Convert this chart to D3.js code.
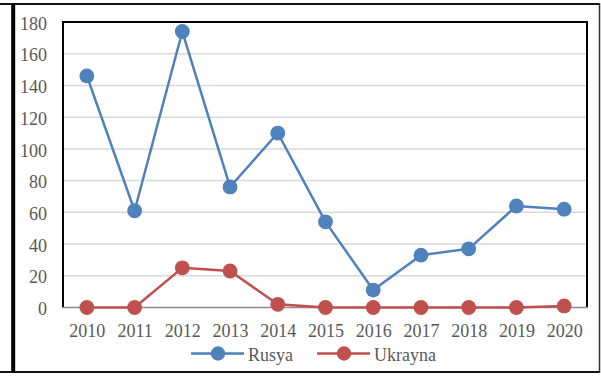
<!DOCTYPE html>
<html>
<head>
<meta charset="utf-8">
<script src="https://cdn.jsdelivr.net/npm/d3@7"></script>
<style>
  html, body { margin: 0; padding: 0; background: #fff; }
  svg { display: block; }
</style>
</head>
<body>
<svg id="chart" width="601" height="376"></svg>
<script>
// Yearly counts per country
const years = ["2010", "2011", "2012", "2013", "2014", "2015", "2016", "2017", "2018", "2019", "2020"];
const rusya = [146, 61, 174, 76, 110, 54, 11, 33, 37, 64, 62];
const ukrayna = [0, 0, 25, 23, 2, 0, 0, 0, 0, 0, 1];
const yTicks = [0, 20, 40, 60, 80, 100, 120, 140, 160, 180];
const seriesNames = ["Rusya", "Ukrayna"];
const seriesColors = ["#4f81bd", "#c0504d"];

const FONT = "'Liberation Serif', 'Times New Roman', Tinos, serif";
const TEXT_COLOR = "#595959";

const svg = d3.select("#chart");

// Frame around the figure
const frame = svg.append("g");
frame.append("line").attr("x1", 0).attr("x2", 600).attr("y1", 4).attr("y2", 4)
  .attr("stroke", "#111").attr("stroke-width", 2);
frame.append("line").attr("x1", 0).attr("x2", 600).attr("y1", 372).attr("y2", 372)
  .attr("stroke", "#111").attr("stroke-width", 2);
frame.append("line").attr("x1", 599.5).attr("x2", 599.5).attr("y1", 3).attr("y2", 373)
  .attr("stroke", "#333").attr("stroke-width", 1.5);
frame.append("line").attr("x1", 13.2).attr("x2", 13.2).attr("y1", 3).attr("y2", 373)
  .attr("stroke", "#000").attr("stroke-width", 4);

const plot = { left: 63, right: 588, top: 22, bottom: 307.5 };

const x = d3.scalePoint().domain(years).range([plot.left, plot.right]).padding(0.5);
const y = d3.scaleLinear().domain([0, 180]).range([plot.bottom, plot.top]);

// Gridlines
svg.append("g")
  .selectAll("line")
  .data(yTicks.filter(t => t > 0 && t < 180))
  .join("line")
  .attr("x1", plot.left).attr("x2", plot.right)
  .attr("y1", d => y(d)).attr("y2", d => y(d))
  .attr("stroke", "#d9d9d9").attr("stroke-width", 1.5);

// Plot area border (top, left, right) and category axis line
svg.append("path")
  .attr("d", `M${plot.left},${plot.bottom} V${plot.top} H${plot.right - 1} V${plot.bottom}`)
  .attr("fill", "none").attr("stroke", "#000").attr("stroke-width", 2);
svg.append("line")
  .attr("x1", plot.left).attr("x2", plot.right)
  .attr("y1", plot.bottom).attr("y2", plot.bottom)
  .attr("stroke", "#8c8c8c").attr("stroke-width", 1.5);

function styleLabels(sel) {
  sel.attr("font-family", null).attr("font-size", null);
  sel.selectAll("text")
    .style("font-family", FONT)
    .style("font-size", "18px")
    .attr("fill", TEXT_COLOR);
}

// Y axis labels
const yAxis = d3.axisLeft(y).tickValues(yTicks).tickSize(0).tickPadding(0);
const yg = svg.append("g").attr("transform", "translate(47,0)").call(yAxis);
yg.select(".domain").remove();
styleLabels(yg);
yg.selectAll("text").attr("dy", "0.4em");

// X axis labels
const xAxis = d3.axisBottom(x).tickSize(0).tickPadding(0);
const xg = svg.append("g").attr("transform", `translate(0,${plot.bottom + 16.5})`).call(xAxis);
xg.select(".domain").remove();
styleLabels(xg);

// Series lines and markers
const line = d3.line().x((d, i) => x(years[i])).y(d => y(d));
[rusya, ukrayna].forEach((vals, s) => {
  const g = svg.append("g");
  g.append("path").datum(vals)
    .attr("d", line)
    .attr("fill", "none")
    .attr("stroke", seriesColors[s])
    .attr("stroke-width", 2.5)
    .attr("stroke-linejoin", "round");
  g.selectAll("circle").data(vals).join("circle")
    .attr("cx", (d, i) => x(years[i]))
    .attr("cy", d => y(d))
    .attr("r", 7.4)
    .attr("fill", seriesColors[s]);
});

// Legend
const legendY = 353.5;
const legendItems = [
  { x0: 191, name: seriesNames[0], color: seriesColors[0] },
  { x0: 317, name: seriesNames[1], color: seriesColors[1] }
];
const lg = svg.append("g");
legendItems.forEach(item => {
  lg.append("line")
    .attr("x1", item.x0).attr("x2", item.x0 + 53)
    .attr("y1", legendY).attr("y2", legendY)
    .attr("stroke", item.color).attr("stroke-width", 2.5);
  lg.append("circle")
    .attr("cx", item.x0 + 27).attr("cy", legendY).attr("r", 7.2)
    .attr("fill", item.color);
  lg.append("text")
    .attr("x", item.x0 + 57).attr("y", legendY + 7)
    .style("font-family", FONT).style("font-size", "18px")
    .attr("fill", TEXT_COLOR)
    .text(item.name);
});
</script>
</body>
</html>
